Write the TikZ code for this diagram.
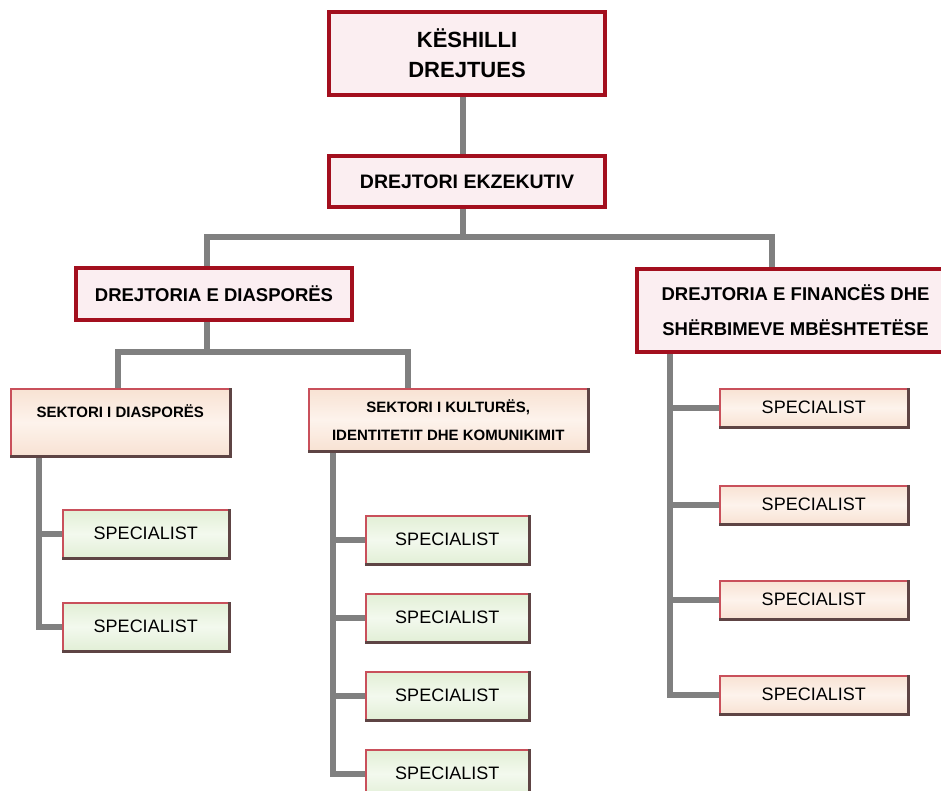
\documentclass[tikz,border=0pt]{standalone}
\usepackage{fontspec}
\setmainfont{Liberation Sans}
\usetikzlibrary{calc}
\definecolor{conngray}{HTML}{808080}
\definecolor{darkred}{HTML}{A30F1E}
\definecolor{pinkfill}{HTML}{FBEEF1}
\definecolor{lightred}{HTML}{C9505B}
\definecolor{bevelc}{HTML}{5E4444}
\definecolor{peachD}{HTML}{F8E2D3}
\definecolor{peachL}{HTML}{FDF3EC}
\definecolor{greenD}{HTML}{E2EFD6}
\definecolor{greenL}{HTML}{F3F9EE}
\pgfdeclarelayer{bg}
\pgfsetlayers{bg,main}
\begin{document}
\begin{tikzpicture}[x=1pt,y=-1pt,
  topbox/.style={draw=darkred, line width=4pt, fill=pinkfill, inner sep=0pt, anchor=north west, align=center},
  lowbox/.style={draw=lightred, line width=1.5pt, inner sep=0pt, anchor=north west, align=center},
  peachbox/.style={lowbox, top color=peachD, bottom color=peachD, middle color=peachL},
  greenbox/.style={lowbox, top color=greenD, bottom color=greenD, middle color=greenL},
  sector/.style={peachbox, font={\fontsize{15}{28}\selectfont\bfseries}},
  spec/.style={font={\fontsize{18}{20}\selectfont}},
  conn/.style={draw=conngray, line width=6pt, line join=miter},
  bevel/.style={draw=bevelc, line width=2.5pt}]
\useasboundingbox (0,0) rectangle (941,791);

% top level
\node[topbox, minimum width=276pt, minimum height=83pt, font={\fontsize{22}{30}\selectfont\bfseries}] (K) at (327,10) {KËSHILLI\\DREJTUES};
\node[topbox, minimum width=276pt, minimum height=51pt, font={\fontsize{19.5}{22}\selectfont\bfseries}] (E) at (327,154) {DREJTORI EKZEKUTIV};
\node[topbox, minimum width=276pt, minimum height=52pt, font={\fontsize{18.5}{22}\selectfont\bfseries}] (DD) at (74,266) {DREJTORIA E DIASPORËS};
\node[topbox, minimum width=317pt, minimum height=83pt, font={\fontsize{18.5}{35}\selectfont\bfseries}] (DF) at (635,267) {DREJTORIA E FINANCËS DHE\\SHËRBIMEVE MBËSHTETËSE};

% sectors
\node[sector, minimum width=219pt, minimum height=67pt, text height=11pt, text depth=20pt] (SD) at (10,388) {SEKTORI I DIASPORËS};
\node[sector, minimum width=279pt, minimum height=62pt] (SK) at (308,388) {SEKTORI I KULTURËS,\\IDENTITETIT DHE KOMUNIKIMIT};

% specialists
\node[greenbox, spec, minimum width=166pt, minimum height=48pt] (L1) at (62,509) {SPECIALIST};
\node[greenbox, spec, minimum width=166pt, minimum height=48pt] (L2) at (62,602) {SPECIALIST};
\node[greenbox, spec, minimum width=163pt, minimum height=48pt] (M1) at (365,515) {SPECIALIST};
\node[greenbox, spec, minimum width=163pt, minimum height=48pt] (M2) at (365,593) {SPECIALIST};
\node[greenbox, spec, minimum width=163pt, minimum height=48pt] (M3) at (365,671) {SPECIALIST};
\node[greenbox, spec, minimum width=163pt, minimum height=48pt] (M4) at (365,749) {SPECIALIST};
\node[peachbox, spec, minimum width=188pt, minimum height=38pt] (R1) at (719,388) {SPECIALIST};
\node[peachbox, spec, minimum width=188pt, minimum height=38pt] (R2) at (719,485) {SPECIALIST};
\node[peachbox, spec, minimum width=188pt, minimum height=38pt] (R3) at (719,580) {SPECIALIST};
\node[peachbox, spec, minimum width=188pt, minimum height=38pt] (R4) at (719,675) {SPECIALIST};

\foreach \n in {SD,SK,L1,L2,M1,M2,M3,M4,R1,R2,R3,R4}
  \draw[bevel] (\n.south west) -- (\n.south east) -- (\n.north east);

% helper coordinates
\coordinate (xK) at (463,0);
\coordinate (xDD) at (207,0);
\coordinate (xDF) at (772,0);
\coordinate (xSD) at (118,0);
\coordinate (xSK) at (408,0);
\coordinate (cSD) at (39,0);
\coordinate (cSK) at (333,0);
\coordinate (cDF) at (670,0);
\coordinate (yA) at (0,237);
\coordinate (yB) at (0,352);

\begin{pgfonlayer}{bg}
\fill[white] (0,0) rectangle (941,791);
\draw[conn] (K.south -| xK) -- (E.north -| xK);
\draw[conn] (E.south -| xK) -- (xK |- yA);
\draw[conn] (DD.north -| xDD) |- (yA -| xDF) -- (DF.north -| xDF);
\draw[conn] (DD.south -| xDD) -- (xDD |- yB);
\draw[conn] (SD.north -| xSD) |- (yB -| xSK) -- (SK.north -| xSK);
\draw[conn] (SD.south -| cSD) |- (L1.west);
\draw[conn] (SD.south -| cSD) |- (L2.west);
\draw[conn] (SK.south -| cSK) |- (M1.west);
\draw[conn] (SK.south -| cSK) |- (M2.west);
\draw[conn] (SK.south -| cSK) |- (M3.west);
\draw[conn] (SK.south -| cSK) |- (M4.west);
\draw[conn] (DF.south -| cDF) |- (R1.west);
\draw[conn] (DF.south -| cDF) |- (R2.west);
\draw[conn] (DF.south -| cDF) |- (R3.west);
\draw[conn] (DF.south -| cDF) |- (R4.west);
\end{pgfonlayer}
\end{tikzpicture}
\end{document}
